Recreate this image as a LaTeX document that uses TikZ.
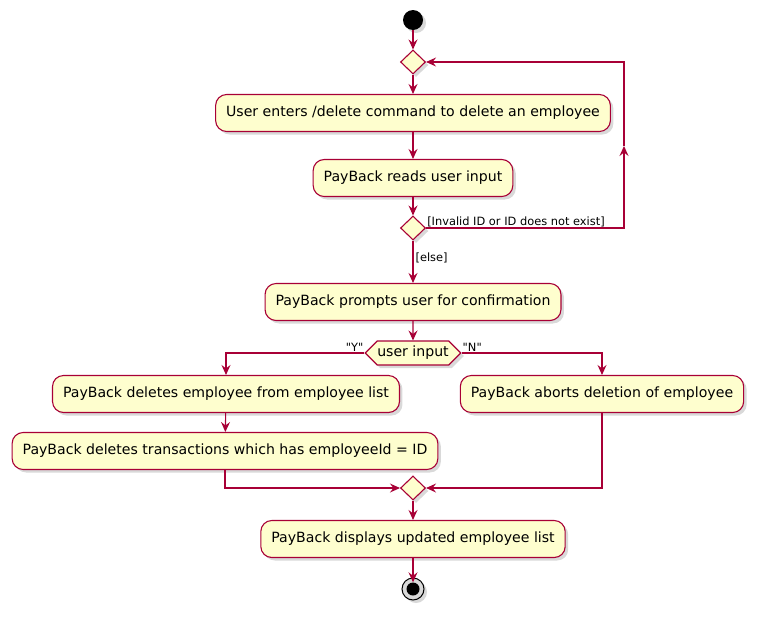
\documentclass[tikz,border=0pt]{standalone}
\usepackage{fontspec}
\setmainfont{DejaVu Sans}[Ligatures=TeXOff]
\usetikzlibrary{arrows.meta,shapes.geometric,shapes.symbols,shadows}
\definecolor{umlfill}{HTML}{FEFECE}
\definecolor{umlline}{HTML}{A80036}
\begin{document}
\begin{tikzpicture}[
        x=1pt,y=-1pt,
        shsty/.style={drop shadow={shadow xshift=3pt,shadow yshift=-3pt,opacity=0.3}},
        actsty/.style={
            draw=umlline,fill=umlfill,shsty,line width=1.1pt,
            rounded corners=11pt,
            minimum height=37pt,inner xsep=10.5pt,
            font=\fontsize{14.1}{16}\selectfont,
        },
        decsty/.style={
            draw=umlline,fill=umlfill,shsty,diamond,line width=1.1pt,
            minimum width=25pt,minimum height=24pt,inner sep=0pt,
        },
        hexsty/.style={
            draw=umlline,fill=umlfill,shsty,signal,line width=1.1pt,
            signal to=west and east,signal pointer angle=90,
            minimum height=24pt,inner xsep=0pt,inner ysep=0pt,
            font=\fontsize{14.1}{16}\selectfont,
        },
        arr/.style={draw=umlline,line width=1.1pt,-{Stealth[length=10pt,width=9pt,inset=3.5pt]}},
        lbl/.style={font=\fontsize{11.4}{13}\selectfont,inner sep=1pt},
    ]
    \useasboundingbox (0,0) rectangle (759,616);

    % start and stop
    \node[circle,fill=black,minimum size=20pt,inner sep=0pt,shsty] at (413,20) (start) {};
    \node[circle,draw=black,fill=white!85!black,line width=1pt,minimum size=22pt,inner sep=0pt,shsty] at (413,589) (stop) {};
    \node[circle,fill=black,minimum size=13pt,inner sep=0pt] at (stop) (stopdot) {};

    % decisions
    \node[decsty] at (413,62) (d1) {};
    \node[decsty] at (413,228) (d2) {};
    \node[hexsty] at (413,353) (hx) {user input};
    \node[decsty] at (413,488) (d3) {};

    % actions
    \node[actsty] at (413,113) (a1) {User enters /delete command to delete an employee};
    \node[actsty] at (413,178) (a2) {PayBack reads user input};
    \node[actsty] at (413,302) (a3) {PayBack prompts user for confirmation};
    \node[actsty] at (226,394) (a4) {PayBack deletes employee from employee list};
    \node[actsty] at (602,394) (a5) {PayBack aborts deletion of employee};
    \node[actsty] at (225,451) (a6) {PayBack deletes transactions which has employeeId = ID};
    \node[actsty] at (413,539) (a7) {PayBack displays updated employee list};

    \coordinate (loopup) at (624,146);

    \draw[arr] (start) -- (d1);
    \draw[arr] (d1) -- (a1);
    \draw[arr] (a1) -- (a2);
    \draw[arr] (a2) -- (d2);
    \draw[arr] (d2.east) -| (loopup);
    \draw[arr] (loopup) |- (d1.east);
    \node[lbl,anchor=south west] at (d2.east) {[Invalid ID or ID does not exist]};
    \draw[arr] (d2) -- node[lbl,right,pos=0.4,xshift=1pt] {[else]} (a3);
    \draw[arr] (a3) -- (hx);
    \draw[arr] (hx.west) -| (a4.north);
    \draw[arr] (hx.east) -| (a5.north);
    \node[lbl,anchor=south east] at (hx.west) {"Y"};
    \node[lbl,anchor=south west] at (hx.east) {"N"};
    \draw[arr] (a4) -- (a6);
    \draw[arr] (a6.south) |- (d3.west);
    \draw[arr] (a5.south) |- (d3.east);
    \draw[arr] (d3) -- (a7);
    \draw[arr] (a7) -- (stopdot);

\end{tikzpicture}
\end{document}
